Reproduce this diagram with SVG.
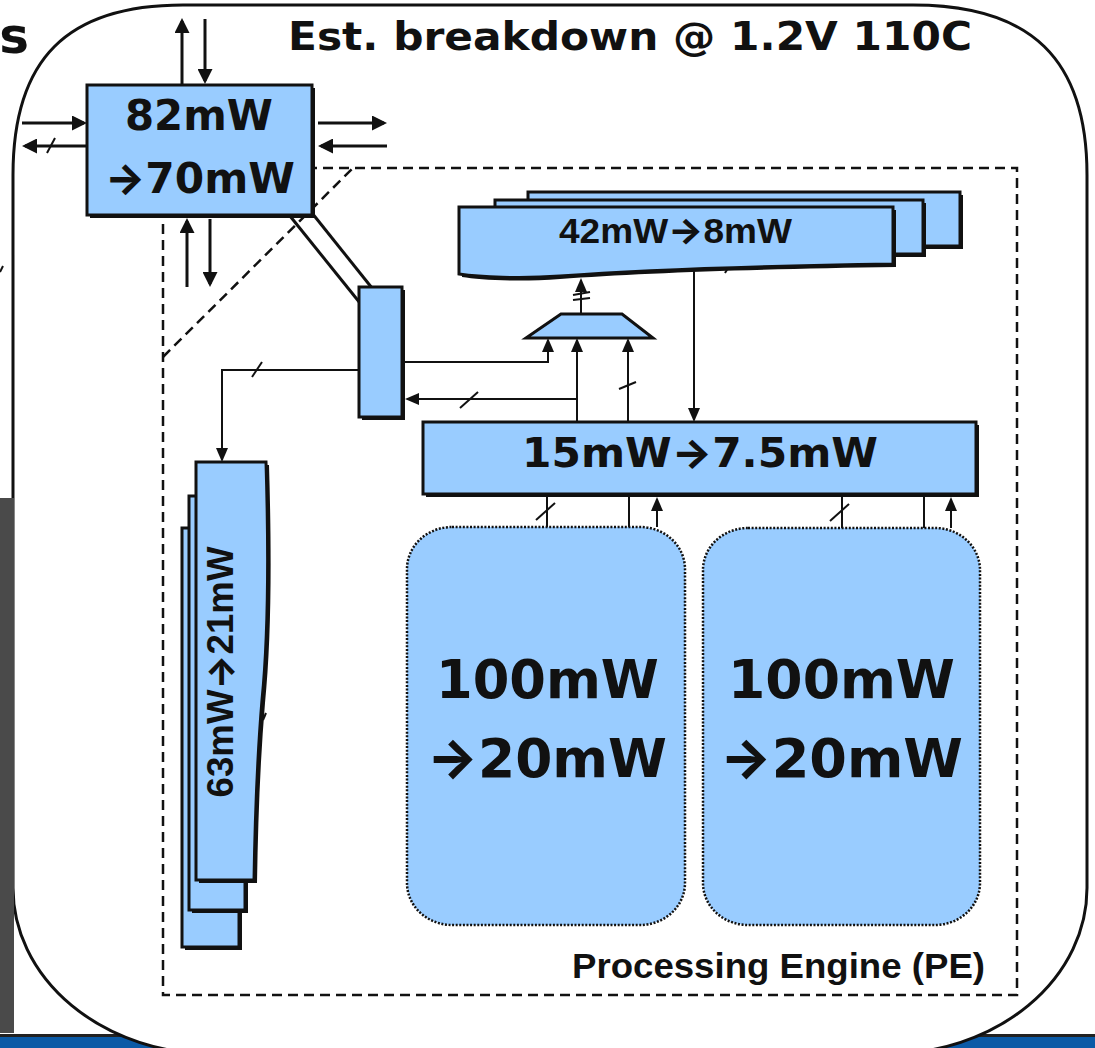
<svg xmlns="http://www.w3.org/2000/svg" width="1095" height="1048" viewBox="0 0 1095 1048">
<style>
.v{font-family:"DejaVu Sans","Liberation Sans",sans-serif;font-weight:bold;fill:#111}
.a{font-family:"Liberation Sans",Arial,sans-serif;font-weight:bold;fill:#111}
.ar{font-family:Inter,"DejaVu Sans",sans-serif;font-weight:800}
.box{fill:#99ccff;stroke:#111;stroke-width:3}
.sh{fill:#111;stroke:none}
.pe{fill:#99ccff;stroke:#111;stroke-width:2.5;stroke-dasharray:2 1.6}
.dash{fill:none;stroke:#111;stroke-width:2.5;stroke-dasharray:10 6}
.thick{fill:none;stroke:#111;stroke-width:3}
.thin{fill:none;stroke:#111;stroke-width:2}
.tk{fill:none;stroke:#111;stroke-width:3;marker-end:url(#ah)}
.tn{fill:none;stroke:#111;stroke-width:2;marker-end:url(#as)}
</style>
<defs>
<marker id="ah" viewBox="0 0 15 15" refX="12" refY="7.5" markerWidth="15" markerHeight="15" markerUnits="userSpaceOnUse" orient="auto"><path d="M0,0 L15,7.5 L0,15 z" fill="#111"/></marker>
<marker id="as" viewBox="0 0 14 12" refX="11" refY="6" markerWidth="14" markerHeight="12" markerUnits="userSpaceOnUse" orient="auto"><path d="M0,0 L14,6 L0,12 z" fill="#111"/></marker>
</defs>
<rect width="1095" height="1048" fill="#fff"/>
<g id="background">
<rect x="0" y="1034" width="1095" height="3" fill="#222"/>
<rect x="0" y="1037" width="1095" height="11" fill="#0b5aa6"/>
<path d="M183,5 H913 C1031,5 1087,59 1087,175 V888 A200,166 0 0 1 887,1054 H213 A200,166 0 0 1 13,888 V175 C13,59 67,5 183,5 Z" fill="#fff" stroke="#111" stroke-width="3"/>
<rect x="0" y="498" width="14" height="535" fill="#4a4a4a"/>
<text class="v" x="29" y="53" font-size="50" text-anchor="end">s</text>
<path d="M0,272 L3,266" class="thin"/>
<text class="v" x="630" y="50" font-size="39" text-anchor="middle" textLength="684" lengthAdjust="spacingAndGlyphs">Est. breakdown @ 1.2V 110C</text>
</g>
<g id="pe-boundary">
<rect x="163" y="168" width="854" height="827" class="dash"/>
<line x1="163" y1="357" x2="353" y2="168" class="dash"/>
<text class="a" x="778.5" y="978" font-size="35" text-anchor="middle" textLength="413" lengthAdjust="spacingAndGlyphs">Processing Engine (PE)</text>
</g>
<g id="connectors">
<line x1="182" y1="84" x2="182" y2="21" class="tk"/>
<line x1="205" y1="19" x2="205" y2="81" class="tk"/>
<line x1="22" y1="123" x2="84" y2="123" class="tk"/>
<line x1="87" y1="146" x2="25" y2="146" class="tk"/>
<line x1="47" y1="153" x2="55" y2="138" class="thin"/>
<line x1="318" y1="123" x2="384" y2="123" class="tk"/>
<line x1="387" y1="146" x2="321" y2="146" class="tk"/>
<line x1="187" y1="287" x2="187" y2="221" class="tk"/>
<line x1="210" y1="219" x2="210" y2="284" class="tk"/>
<line x1="290" y1="216" x2="360" y2="303" class="thick"/>
<line x1="312" y1="213" x2="372" y2="288" class="thick"/>
<polyline points="359,370 222,370 222,459" class="tn"/>
<line x1="252" y1="377" x2="262" y2="362" class="thin"/>
<polyline points="402,362 548,362 548,341" class="tn"/>
<line x1="577" y1="422" x2="577" y2="341" class="tn"/>
<line x1="577" y1="399" x2="408" y2="399" class="tn"/>
<line x1="460" y1="408" x2="478" y2="392" class="thin"/>
<line x1="628" y1="422" x2="628" y2="341" class="tn"/>
<line x1="619" y1="389" x2="636" y2="382" class="thin"/>
<line x1="581" y1="314" x2="581" y2="281" class="tn"/>
<line x1="573" y1="295" x2="590" y2="292" class="thin"/>
<line x1="573" y1="300" x2="590" y2="298" class="thin"/>
<line x1="694" y1="265" x2="694" y2="419" class="tn"/>
<line x1="725" y1="273" x2="728" y2="268" class="thin"/>
<line x1="547" y1="497" x2="547" y2="527" class="thin"/>
<line x1="536" y1="520" x2="555" y2="503" class="thin"/>
<line x1="629" y1="497" x2="629" y2="527" class="thin"/>
<line x1="657" y1="527" x2="657" y2="500" class="tn"/>
<line x1="842" y1="497" x2="842" y2="528" class="thin"/>
<line x1="830" y1="521" x2="849" y2="504" class="thin"/>
<line x1="924" y1="497" x2="924" y2="528" class="thin"/>
<line x1="951" y1="528" x2="951" y2="500" class="tn"/>
<line x1="263" y1="720" x2="266" y2="713" class="thin"/>
</g>
<g id="node-82mW">
<rect x="90" y="88" width="225" height="130" class="sh"/>
<rect x="87" y="85" width="225" height="130" class="box"/>
<text class="v" x="199" y="130" font-size="42" text-anchor="middle" textLength="148" lengthAdjust="spacingAndGlyphs">82mW</text>
<text class="v" x="200" y="193" font-size="42" text-anchor="middle" textLength="190" lengthAdjust="spacingAndGlyphs"><tspan class="ar">→</tspan>70mW</text>
</g>
<g id="node-switch">
<rect x="362" y="290" width="43" height="130" class="sh"/>
<rect x="359" y="287" width="43" height="130" class="box"/>
</g>
<g id="node-42mW">
<rect x="531" y="195" width="432" height="54" class="sh"/>
<rect x="528" y="192" width="432" height="54" class="box"/>
<rect x="498" y="203" width="428" height="54" class="sh"/>
<rect x="495" y="200" width="428" height="54" class="box"/>
<path d="M462,210 H896 V267 C760,269 640,273 560,279 C520,282 480,280 462,277 Z" class="sh"/>
<path d="M459,207 H893 V264 C760,266 640,270 560,276 C520,279 480,277 459,274 Z" class="box"/>
<text class="a" x="675.5" y="243" font-size="35" text-anchor="middle" textLength="233" lengthAdjust="spacingAndGlyphs">42mW<tspan class="ar">→</tspan>8mW</text>
</g>
<g id="node-mux">
<polygon points="561,314 622,314 653,338 526,338" class="box"/>
</g>
<g id="node-15mW">
<rect x="426" y="425" width="553" height="72" class="sh"/>
<rect x="423" y="422" width="553" height="72" class="box"/>
<text class="v" x="700" y="467" font-size="40" text-anchor="middle" textLength="356" lengthAdjust="spacingAndGlyphs">15mW<tspan class="ar">→</tspan>7.5mW</text>
</g>
<g id="node-63mW">
<rect x="185" y="531" width="57" height="419" class="sh"/>
<rect x="182" y="528" width="57" height="419" class="box"/>
<rect x="192" y="499" width="56" height="414" class="sh"/>
<rect x="189" y="496" width="56" height="414" class="box"/>
<path d="M199,465 H269 C272,563 271,643 265,703 C260,763 258,823 257,883 H199 Z" class="sh"/>
<path d="M196,462 H266 C269,560 268,640 262,700 C257,760 255,820 254,880 H196 Z" class="box"/>
<text class="a" transform="translate(233,672) rotate(-90)" x="0" y="0" font-size="36" text-anchor="middle" textLength="251" lengthAdjust="spacingAndGlyphs">63mW<tspan class="ar">→</tspan>21mW</text>
</g>
<g id="node-pe-left">
<rect x="407" y="527" width="278" height="398" rx="45" ry="42" class="pe"/>
<text class="v" x="547.5" y="698" font-size="54" text-anchor="middle" textLength="223" lengthAdjust="spacingAndGlyphs">100mW</text>
<text class="v" x="547" y="777" font-size="54" text-anchor="middle" textLength="240" lengthAdjust="spacingAndGlyphs"><tspan class="ar">→</tspan>20mW</text>
</g>
<g id="node-pe-right">
<rect x="703" y="528" width="277" height="397" rx="45" ry="42" class="pe"/>
<text class="v" x="841.5" y="698" font-size="54" text-anchor="middle" textLength="227" lengthAdjust="spacingAndGlyphs">100mW</text>
<text class="v" x="841.5" y="777" font-size="54" text-anchor="middle" textLength="243" lengthAdjust="spacingAndGlyphs"><tspan class="ar">→</tspan>20mW</text>
</g>
</svg>
